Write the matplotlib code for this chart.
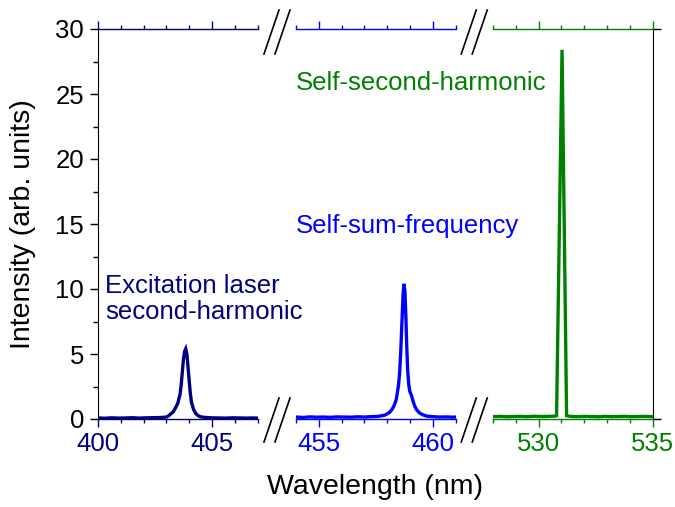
import matplotlib
matplotlib.use("Agg")
import matplotlib.pyplot as plt
from matplotlib.ticker import MultipleLocator, FixedLocator
from matplotlib.lines import Line2D

plt.rcParams['font.family'] = ['Liberation Sans', 'DejaVu Sans']

# ---- data ----
wl_exc = [400.0, 400.3, 400.6, 400.9, 401.2, 401.5, 401.8, 402.1, 402.4, 402.7,
          403.0, 403.1, 403.2, 403.3, 403.4, 403.5, 403.6, 403.65, 403.7, 403.75,
          403.8, 403.85, 403.9, 403.95, 404.0, 404.05, 404.1, 404.2, 404.3, 404.4,
          404.5, 404.7, 405.0, 405.3, 405.6, 405.9, 406.2, 406.5, 406.8, 407.0]
int_exc = [0.08, 0.06, 0.09, 0.07, 0.08, 0.10, 0.07, 0.09, 0.10, 0.11,
           0.15, 0.25, 0.40, 0.55, 0.85, 1.2, 1.9, 2.6, 3.6, 4.6,
           5.2, 5.4, 5.0, 4.0, 3.0, 2.0, 1.3, 0.7, 0.4, 0.25,
           0.17, 0.12, 0.09, 0.08, 0.07, 0.09, 0.08, 0.07, 0.08, 0.07]

wl_ssf = [454.0, 454.3, 454.6, 454.9, 455.2, 455.5, 455.8, 456.1, 456.4, 456.7,
          457.0, 457.3, 457.6, 457.9, 458.1, 458.2, 458.3, 458.4, 458.5, 458.55,
          458.6, 458.65, 458.7, 458.74, 458.78, 458.82, 458.86, 458.9, 458.95, 459.0,
          459.07, 459.15, 459.22, 459.3, 459.43, 459.6, 459.75, 460.0, 460.3, 460.6,
          460.9, 461.0]
int_ssf = [0.15, 0.12, 0.16, 0.14, 0.15, 0.13, 0.16, 0.15, 0.14, 0.17,
           0.15, 0.18, 0.2, 0.3, 0.5, 0.7, 1.0, 1.5, 2.6, 3.6,
           5.3, 7.5, 9.6, 10.4, 9.8, 8.0, 5.6, 3.8, 2.6, 2.1,
           1.8, 1.3, 0.95, 0.7, 0.45, 0.3, 0.22, 0.18, 0.15, 0.16,
           0.14, 0.15]

wl_ssh = [528.0, 528.3, 528.6, 528.9, 529.2, 529.5, 529.8, 530.1, 530.4, 530.7,
          530.79, 531.03, 531.23, 531.4, 531.7, 532.0, 532.3, 532.6, 532.9, 533.2,
          533.5, 533.8, 534.1, 534.4, 534.7, 535.0]
int_ssh = [0.18, 0.2, 0.17, 0.19, 0.2, 0.18, 0.21, 0.19, 0.2, 0.22,
           0.25, 28.4, 0.25, 0.2, 0.18, 0.2, 0.19, 0.17, 0.2, 0.18,
           0.19, 0.2, 0.18, 0.19, 0.2, 0.18]

xlims = [(400, 407), (454, 461), (528, 535)]
major_ticks = [[400, 405], [455, 460], [530, 535]]
colors = ['#000080', '#0000ff', '#008000']
series = [(wl_exc, int_exc), (wl_ssf, int_ssf), (wl_ssh, int_ssh)]

W, H = 675, 507
fig = plt.figure(figsize=(W / 100, H / 100), dpi=100)

px_left = [98, 296, 493]
px_w = 159.5
px_top, px_bot = 29, 419

FS = 18.5
axes = []
for i in range(3):
    ax = fig.add_axes([px_left[i] / W, 1 - px_bot / H, px_w / W, (px_bot - px_top) / H])
    axes.append(ax)
    x, y = series[i]
    ax.plot(x, y, color=colors[i], lw=2.4, solid_joinstyle='miter')
    ax.set_xlim(*xlims[i])
    ax.set_ylim(0, 30)
    ax.set_xticks(major_ticks[i])
    ax.xaxis.set_minor_locator(MultipleLocator(1))
    ax.tick_params(axis='x', which='both', direction='out', colors=colors[i],
                   labelsize=FS, top=True, bottom=True, labeltop=False, pad=4, width=1)
    ax.tick_params(axis='x', which='major', length=5.5)
    ax.tick_params(axis='x', which='minor', length=3)
    for s in ['top', 'bottom']:
        ax.spines[s].set_color(colors[i])
        ax.spines[s].set_linewidth(1.0)
    ax.spines['left'].set_visible(i == 0)
    ax.spines['right'].set_visible(i == 2)
    ax.spines['left'].set_color('black')
    ax.spines['right'].set_color('black')
    if i == 0:
        ax.yaxis.set_major_locator(MultipleLocator(5))
        ax.yaxis.set_minor_locator(MultipleLocator(2.5))
        ax.tick_params(axis='y', which='both', direction='out', left=True, right=False,
                       labelsize=FS, colors='black', width=1, pad=4)
        ax.tick_params(axis='y', which='major', length=6)
        ax.tick_params(axis='y', which='minor', length=3.5)
    elif i == 2:
        ax.yaxis.set_major_locator(FixedLocator([0, 30]))
        ax.tick_params(axis='y', which='both', direction='out', left=False, right=True,
                       labelleft=False, labelright=False, width=1, length=5.5, colors='black')
    else:
        ax.tick_params(axis='y', which='both', left=False, right=False,
                       labelleft=False, labelright=False)
    ax.patch.set_visible(False)

axes[0].set_ylabel('Intensity (arb. units)', fontsize=20.5, labelpad=14)
fig.text(375 / W, 1 - 487 / H, 'Wavelength (nm)', fontsize=20.5, ha='center', va='center')

fig.text(105 / W, 1 - 299 / H, 'Excitation laser\nsecond-harmonic', fontsize=FS,
         color=colors[0], ha='left', va='center', linespacing=1.15)
fig.text(519 / W, 1 - 226 / H, 'Self-sum-frequency', fontsize=FS,
         color=colors[1], ha='right', va='center')
fig.text(546 / W, 1 - 83 / H, 'Self-second-harmonic', fontsize=FS,
         color=colors[2], ha='right', va='center')

# break marks
for gx in [(258 + 296) / 2, (455.5 + 493) / 2]:
    for gy in [px_top + 3, px_bot + 1]:
        for off in (-5.5, 5.5):
            cx = gx + off
            x0, x1 = cx - 7.5, cx + 7.5
            y0, y1 = gy + 22, gy - 22
            fig.add_artist(Line2D([x0 / W, x1 / W], [1 - y0 / H, 1 - y1 / H],
                                  color='black', lw=1.2, transform=fig.transFigure))

fig.savefig('out.png', dpi=100)
